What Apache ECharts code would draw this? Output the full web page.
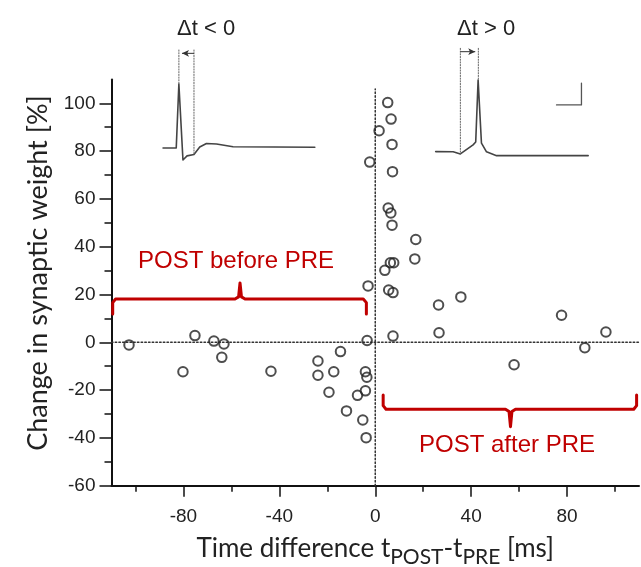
<!DOCTYPE html>
<html><head><meta charset="utf-8">
<script src="https://cdn.jsdelivr.net/npm/echarts@6/dist/echarts.min.js"></script>
<style>html,body{margin:0;padding:0;background:#fff}#c{width:641px;height:567px}</style>
</head><body><div id="c"></div>
<script>
// Data: time difference (ms) and change in synaptic weight (%)
const postBeforeX = [-102.7,-75.2,-67.3,-63.1,-64.0,-80.2,-43.5,-23.9,-23.9,-14.5,-17.3,-19.3,-12.0,-7.4,-4.1,-3.5,-4.1,-5.2,-3.8,-3.4,-3.0,-2.3];
const postBeforeY = [-1.1,2.8,0.5,-0.7,-6.3,-12.3,-12.1,-7.8,-13.8,-3.9,-12.3,-20.9,-28.7,-22.2,-12.3,-14.6,-20.3,-32.5,-39.9,0.75,23.6,75.4];
const postAfterX = [1.6,5.2,6.6,7.0,7.2,5.4,6.5,7.0,16.9,16.5,6.3,7.7,4.0,5.6,7.4,26.4,35.7,7.4,26.6,77.7,57.9,87.4,96.2];
const postAfterY = [88.5,100.3,93.4,82.8,71.4,56.2,54.1,49.0,43.0,34.9,33.3,33.3,30.1,21.9,20.8,15.6,19.0,2.6,4.0,11.3,-9.4,-2.3,4.3];

const xTickLabels = [-80,-40,0,40,80];
const xMinorTicks = [-100,-60,-20,20,60,100];
const yTickLabels = [-60,-40,-20,0,20,40,60,80,100];
const yMinorTicks = [-50,-30,-10,10,30,50,70,90];

// Brackets (annotation shapes, in data units)
const leftBracketX = [-109.5,-109.5,-108.3,-58.5,-57.0,-56.4,-55.8,-54.3,-5.0,-3.7,-3.7];
const leftBracketY = [11.8,16.6,18.1,18.1,19.0,24.8,19.0,18.1,18.1,16.6,11.8];
const rightBracketX = [3.3,3.3,4.5,54.3,55.8,56.4,57.0,58.5,107.8,109.0,109.0];
const rightBracketY = [-22.0,-26.5,-28.0,-28.0,-29.0,-35.3,-29.0,-28.0,-28.0,-26.5,-22.0];

// Inset spike traces (illustrations, in data units)
const traceLeftX = [-88.5,-83.0,-81.9,-80.2,-78.5,-75.6,-73.2,-70.4,-66.2,-59.3,-25.2];
const traceLeftY = [81.3,81.3,108.1,76.3,78.0,78.6,81.7,83.2,83.0,81.8,81.6];
const traceRightX = [25.2,32.5,35.5,40.8,41.9,42.9,44.3,46.4,50.6,88.8];
const traceRightY = [79.8,79.7,78.8,82.6,83.8,109.7,83.3,79.7,78.1,78.1];

const zip = (a,b) => a.map((v,i)=>[v,b[i]]);
const RED = '#c00000';
const INK = '#222';

function line(data, color, width, type, extra) {
  return Object.assign({
    type:'line', data, symbol:'none', clip:false, silent:true, animation:false,
    lineStyle:{color, width, type: type||'solid', cap:'round', join:'round'}, z:3
  }, extra||{});
}
function arrow(x1, x2, y, rot) {
  return {
    type:'line', clip:false, silent:true, animation:false, z:4,
    lineStyle:{color:'#333', width:1},
    itemStyle:{color:'#333'},
    data:[{value:[x1,y], symbol:'none'},{value:[x2,y], symbol:'arrow', symbolSize:[5,7], symbolRotate:rot}]
  };
}

const chart = echarts.init(document.getElementById('c'), null, {renderer:'canvas'});
const labelFont = {fontFamily:'Liberation Sans, Arial, sans-serif', fontSize:19, color:INK};
chart.setOption({
  backgroundColor:'#fff',
  animation:false,
  grid:{left:111.5, top:79.4, width:527.5, height:406.3, containLabel:false, outerBoundsMode:'none'},
  xAxis:[{
    type:'value', min:-110, max:110, position:'bottom',
    axisLine:{show:true, onZero:false, lineStyle:{color:'#111', width:2}},
    axisTick:{show:true, length:11, inside:false, customValues:xTickLabels, lineStyle:{color:'#111', width:1.5}},
    axisLabel:Object.assign({customValues:xTickLabels, margin:22}, labelFont),
    splitLine:{show:false},
    name:'{a|Time difference t}{s|POST}{a|-t}{s|PRE}{a| [ms]}',
    nameLocation:'middle', nameGap:50,
    nameTextStyle:{rich:{
      a:{fontFamily:'Lato, sans-serif', fontSize:26, color:INK, lineHeight:26, verticalAlign:'top'},
      s:{fontFamily:'Lato, sans-serif', fontSize:21, color:INK, lineHeight:32, verticalAlign:'bottom'}
    }}
  },{
    type:'value', min:-110, max:110, position:'bottom',
    axisLine:{show:false, onZero:false},
    axisTick:{show:true, length:6, customValues:xMinorTicks, lineStyle:{color:'#111', width:1.5}},
    axisLabel:{show:false}, splitLine:{show:false}
  }],
  yAxis:[{
    type:'value', min:-60, max:110, position:'left',
    axisLine:{show:true, onZero:false, lineStyle:{color:'#111', width:2}},
    axisTick:{show:true, length:12, customValues:yTickLabels, lineStyle:{color:'#111', width:1.5}},
    axisLabel:Object.assign({customValues:yTickLabels, margin:16}, labelFont),
    splitLine:{show:false}
  },{
    type:'value', min:-60, max:110, position:'left',
    axisLine:{show:false, onZero:false},
    axisTick:{show:true, length:7, customValues:yMinorTicks, lineStyle:{color:'#111', width:1.5}},
    axisLabel:{show:false}, splitLine:{show:false}
  }],
  graphic:[
    {type:'text', x:38, y:273, rotation:Math.PI/2, style:{text:'Change in synaptic weight [%]', fontFamily:'Lato, sans-serif', fontSize:27, fill:INK, align:'center', verticalAlign:'middle'}},
    {type:'text', left:177, top:18, style:{text:'\u0394t < 0', fontFamily:'Liberation Sans, Arial, sans-serif', fontSize:22, fill:INK}},
    {type:'text', left:457, top:18, style:{text:'\u0394t > 0', fontFamily:'Liberation Sans, Arial, sans-serif', fontSize:22, fill:INK}},
    {type:'text', left:138, top:249, style:{text:'POST before PRE', fontFamily:'Liberation Sans, Arial, sans-serif', fontSize:24, fill:RED}},
    {type:'text', left:419, top:433, style:{text:'POST after PRE', fontFamily:'Liberation Sans, Arial, sans-serif', fontSize:24, fill:RED}}
  ],
  series:[
    line([[-110,0],[110,0]], '#333', 1.5, [1.5,2.2]),
    line([[0,-60],[0,106]], '#333', 1.5, [1.5,2.2]),
    line(zip(leftBracketX,leftBracketY), RED, 3),
    line(zip(rightBracketX,rightBracketY), RED, 3),
    line(zip(traceLeftX,traceLeftY), '#444', 1.6),
    line(zip(traceRightX,traceRightY), '#444', 1.6),
    line([[-81.9,122.3],[-81.9,108]], '#666', 1, [1.2,1.5]),
    line([[-75.6,122.3],[-75.6,78.4]], '#666', 1, [1.2,1.5]),
    line([[35.5,123],[35.5,78.8]], '#666', 1, [1.2,1.5]),
    line([[43.0,123],[43.0,109.7]], '#666', 1, [1.2,1.5]),
    line([[75.6,99.3],[86.0,99.3],[86.0,108.4]], '#555', 1.3),
    arrow(-75.6,-80.6,120.9,90),
    arrow(35.5,41.7,121.6,-90),
    {type:'scatter', name:'POST before PRE', data:zip(postBeforeX,postBeforeY), symbol:'circle', symbolSize:9.5,
     itemStyle:{color:'rgba(255,255,255,0)', borderColor:INK, borderWidth:2}, z:5, clip:false},
    {type:'scatter', name:'POST after PRE', data:zip(postAfterX,postAfterY), symbol:'circle', symbolSize:9.5,
     itemStyle:{color:'rgba(255,255,255,0)', borderColor:INK, borderWidth:2}, z:5, clip:false}
  ]
});
</script></body></html>
